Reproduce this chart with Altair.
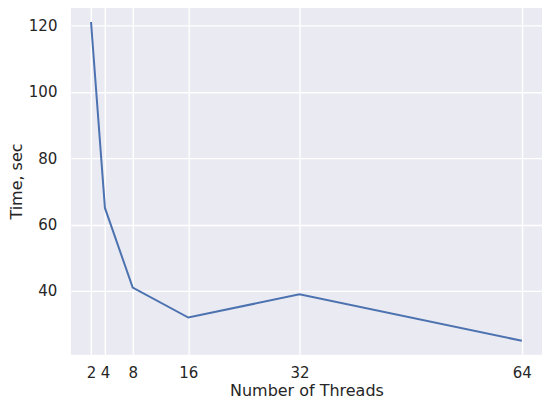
import altair as alt
import pandas as pd

threads = [2, 4, 8, 16, 32, 64]
times = [121, 65, 41, 32, 39, 25]
x_ticks = [2, 4, 8, 16, 32, 64]
y_ticks = [40, 60, 80, 100, 120]

df = pd.DataFrame({"threads": threads, "time": times})

chart = alt.Chart(df).mark_line(color="#4C72B0", strokeWidth=2).encode(
    x=alt.X("threads:Q", title="Number of Threads",
            scale=alt.Scale(domain=[-0.9, 66.9], nice=False, zero=False),
            axis=alt.Axis(values=x_ticks, labelFlush=False)),
    y=alt.Y("time:Q", title="Time, sec",
            scale=alt.Scale(domain=[20.8, 125.4], nice=False, zero=False),
            axis=alt.Axis(values=y_ticks)),
).properties(
    width=472, height=348,
    autosize=alt.AutoSizeParams(type="none"),
    padding={"left": 63, "top": -1, "right": 0, "bottom": 46},
    background="white",
).configure_view(
    fill="#EAEAF2", stroke=None
).configure_axis(
    domain=False, ticks=False, grid=True, gridColor="white", gridWidth=1.4,
    labelFont="DejaVu Sans", labelFontSize=15, labelColor="#262626",
    titleFont="DejaVu Sans", titleFontSize=16, titleColor="#262626",
    titleFontWeight="normal",
).configure_axisX(
    labelPadding=11, titlePadding=2
).configure_axisY(
    labelPadding=14, titlePadding=4
)

chart.save("out.html", embed_options={"renderer": "svg", "actions": False})
